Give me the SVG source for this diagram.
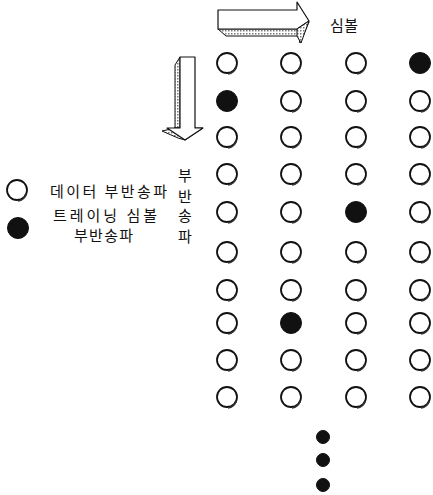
<svg xmlns="http://www.w3.org/2000/svg" xmlns:xlink="http://www.w3.org/1999/xlink" width="433" height="495" viewBox="0 0 433 495">
<defs>
<style>
.t{font-family:"Noto Sans CJK KR","Noto Sans",sans-serif;font-size:15px;fill:#111}
.o{fill:#fff;stroke:#111;stroke-width:1.8}
.f{fill:#111;stroke:#111;stroke-width:1}
.sh{fill:none;stroke:#333;stroke-width:1.4}
.face{fill:#fff;stroke:#111;stroke-width:1.2;stroke-linejoin:round}
.side{fill:url(#dots);stroke:#111;stroke-width:1;stroke-linejoin:round}
</style>
<pattern id="dots" width="3" height="3" patternUnits="userSpaceOnUse">
<rect width="3" height="3" fill="#fff"/>
<rect width="1.5" height="1.5" fill="#777"/>
</pattern>
<g id="oc">
<circle class="o" cx="0" cy="0" r="10"/>
<path class="sh" d="M9.5,4 A10.5,10.5 0 0 1 1,11"/>
</g>
<g id="fc">
<circle class="f" cx="0" cy="0" r="10.5"/>
</g>
</defs>
<rect width="433" height="495" fill="#fff"/>

<g id="arrow-symbol">
<polygon class="side" points="218,29 297,29 300,43 309,22 297,36 226,36"/>
<polygon class="face" points="218,10 297,10 297,2 309,21 297,29 218,29"/>
<polygon class="side" points="297,29 309,21 301,43 297,36"/>
</g>
<g id="arrow-subcarrier">
<polygon class="side" points="175,65 180,57 180,128 175,128"/>
<polygon class="side" points="162,131 175,128 203,128 185,140 178,138"/>
<polygon class="face" points="180,57 195,57 195,128 203,128 185,140 167,128 180,128"/>
</g>

<g id="label-symbol"><text class="t" x="330" y="31" textLength="28">심볼</text></g>
<g id="label-subcarrier">
<text class="t" x="185" y="181" text-anchor="middle">부</text>
<text class="t" x="185" y="202" text-anchor="middle">반</text>
<text class="t" x="185" y="221" text-anchor="middle">송</text>
<text class="t" x="185" y="242" text-anchor="middle">파</text>
</g>

<g id="legend-data">
<use xlink:href="#oc" x="17" y="190"/>
<text class="t" x="50" y="197" textLength="117">데이터 부반송파</text>
</g>
<g id="legend-training">
<circle class="f" cx="18" cy="228" r="10.5"/>
<text class="t" x="53" y="221" textLength="104">트레이닝 심볼</text>
<text class="t" x="74" y="241" textLength="59">부반송파</text>
</g>

<g id="grid">
<g id="r1"><use xlink:href="#oc" x="227" y="63"/><use xlink:href="#oc" x="291" y="63"/><use xlink:href="#oc" x="356" y="63"/><use xlink:href="#fc" x="420" y="63"/></g>
<g id="r2"><use xlink:href="#fc" x="227" y="101"/><use xlink:href="#oc" x="291" y="101"/><use xlink:href="#oc" x="356" y="101"/><use xlink:href="#oc" x="420" y="101"/></g>
<g id="r3"><use xlink:href="#oc" x="227" y="137"/><use xlink:href="#oc" x="291" y="137"/><use xlink:href="#oc" x="356" y="137"/><use xlink:href="#oc" x="420" y="137"/></g>
<g id="r4"><use xlink:href="#oc" x="227" y="174"/><use xlink:href="#oc" x="291" y="174"/><use xlink:href="#oc" x="356" y="174"/><use xlink:href="#oc" x="420" y="174"/></g>
<g id="r5"><use xlink:href="#oc" x="227" y="212"/><use xlink:href="#oc" x="291" y="212"/><use xlink:href="#fc" x="356" y="212"/><use xlink:href="#oc" x="420" y="212"/></g>
<g id="r6"><use xlink:href="#oc" x="227" y="252"/><use xlink:href="#oc" x="291" y="252"/><use xlink:href="#oc" x="356" y="252"/><use xlink:href="#oc" x="420" y="252"/></g>
<g id="r7"><use xlink:href="#oc" x="227" y="290"/><use xlink:href="#oc" x="291" y="290"/><use xlink:href="#oc" x="356" y="290"/><use xlink:href="#oc" x="420" y="290"/></g>
<g id="r8"><use xlink:href="#oc" x="227" y="323"/><use xlink:href="#fc" x="291" y="323"/><use xlink:href="#oc" x="356" y="323"/><use xlink:href="#oc" x="420" y="323"/></g>
<g id="r9"><use xlink:href="#oc" x="227" y="360"/><use xlink:href="#oc" x="291" y="360"/><use xlink:href="#oc" x="356" y="360"/><use xlink:href="#oc" x="420" y="360"/></g>
<g id="r10"><use xlink:href="#oc" x="227" y="397"/><use xlink:href="#oc" x="291" y="397"/><use xlink:href="#oc" x="356" y="397"/><use xlink:href="#oc" x="420" y="397"/></g>
</g>

<g id="ellipsis">
<circle class="f" cx="323" cy="437" r="6.5"/>
<circle class="f" cx="323" cy="460" r="6.5"/>
<circle class="f" cx="323" cy="485" r="6.5"/>
</g>
</svg>
